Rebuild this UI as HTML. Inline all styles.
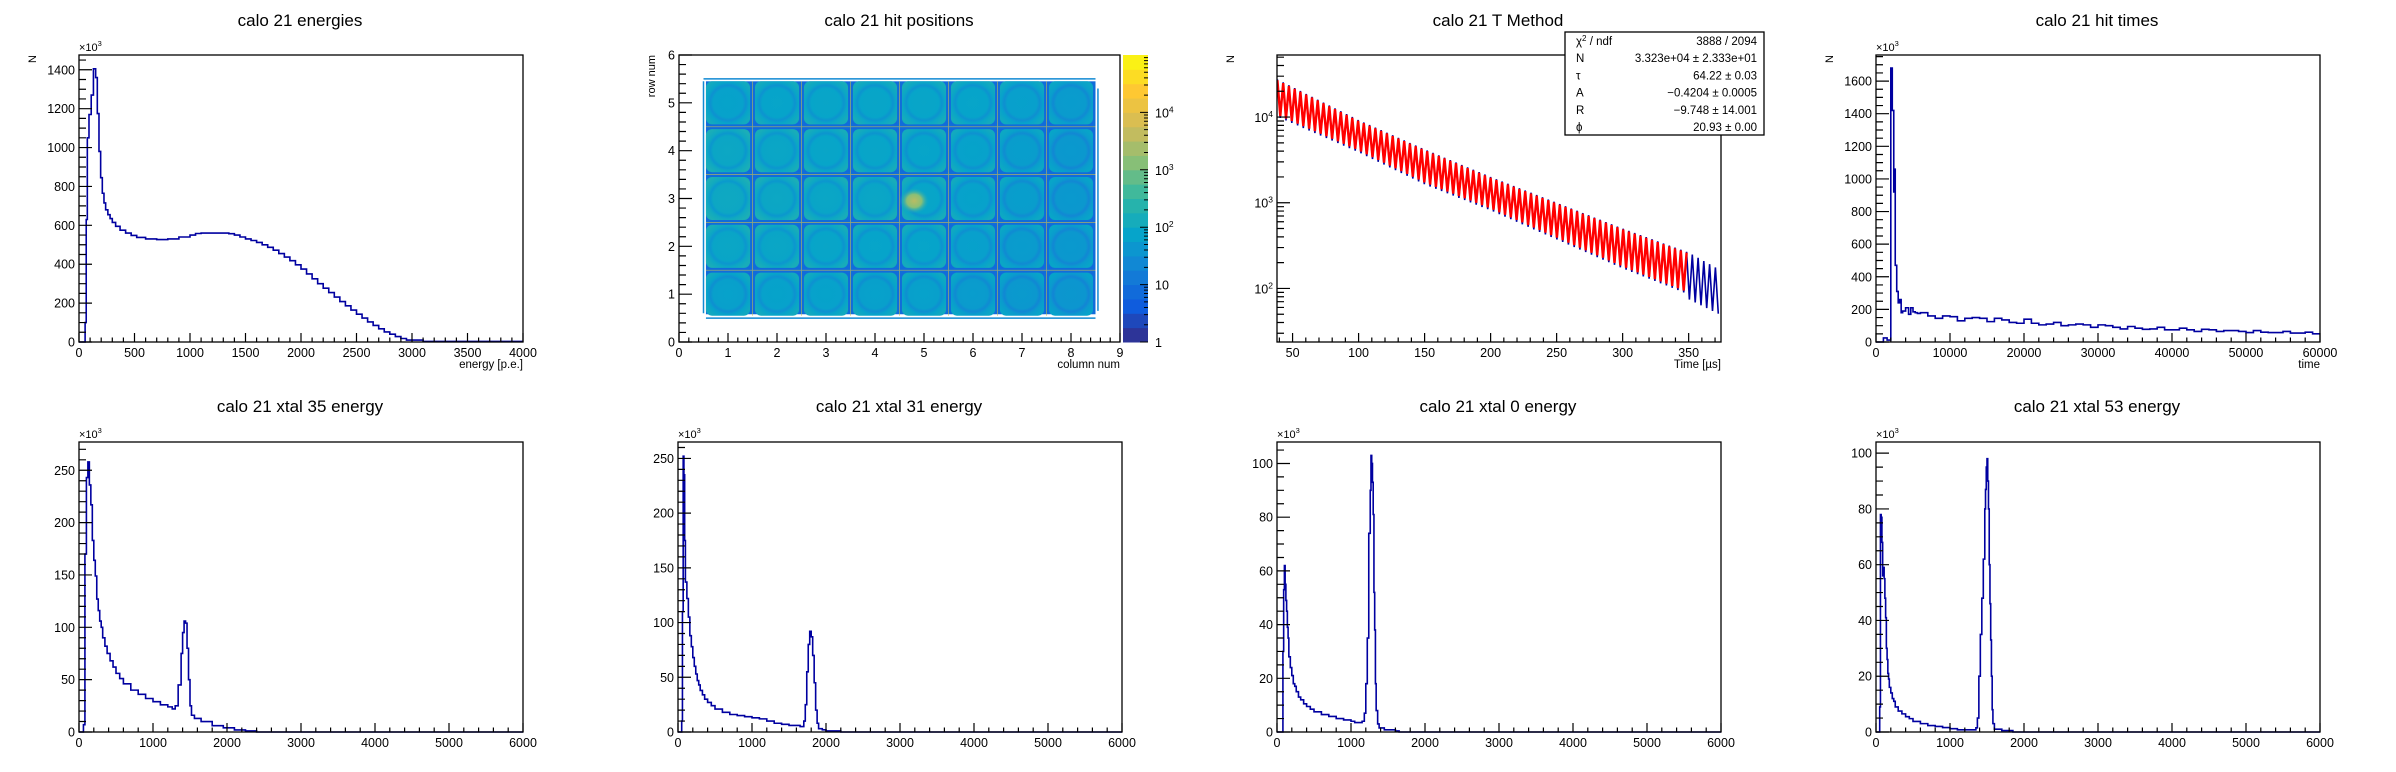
<!DOCTYPE html>
<html><head><meta charset="utf-8"><title>calo 21 plots</title>
<style>
html,body{margin:0;padding:0;background:#fff;}
svg{display:block;font-family:"Liberation Sans",Arial,sans-serif;}
</style></head>
<body>
<svg id="canvas" width="2396" height="772" viewBox="0 0 2396 772" xmlns="http://www.w3.org/2000/svg">
<defs>
<clipPath id="clipHP"><rect x="679" y="55" width="445" height="287"/></clipPath>
<clipPath id="clipTM"><rect x="1277" y="55" width="445" height="287"/></clipPath>
</defs>
</svg>
<script>
// ---------- DATA ----------
const enEdges = [0,55,65,75,90,110,130,150,165,180,195,210,225,240,260,280,300,330,370,420,470,520,600,700,800,900,1000,1050,1100,1350,1400,1450,1500,1550,1600,1650,1700,1750,1800,1850,1900,1950,2000,2050,2100,2150,2200,2250,2300,2350,2400,2450,2500,2550,2600,2650,2700,2750,2800,2850,2900,2950,3100,4000];
const enCounts = [0,100,630,1050,1170,1270,1405,1360,1175,980,845,765,715,680,655,635,615,595,575,560,548,538,530,527,530,540,550,558,560,557,550,540,530,522,512,500,487,472,455,437,418,397,375,350,325,300,277,254,231,208,186,164,143,123,103,85,68,52,40,28,18,10,3];
const htEdges = [0,1000,1500,2000,2200,2400,2500,2600,2800,3000,3200,3400,3600,4000,4400,4700,5000,5300,5600,6000,7000,8000,9000,10000,11000,12000,13000,14000,15000,16000,17000,18000,19000,20000,21000,22000,23000,24000,25000,26000,27000,28000,29000,30000,31000,32000,33000,34000,35000,36000,37000,38000,39000,40000,41000,42000,43000,44000,45000,46000,47000,48000,49000,50000,51000,52000,53000,54000,55000,56000,57000,58000,59000,60000];
const htCounts = [0,25,12,1680,1420,920,1060,470,310,240,260,180,190,210,170,210,185,180,175,180,160,145,160,155,130,145,150,145,125,145,135,120,115,140,115,105,110,120,100,105,110,105,90,105,100,90,80,95,85,78,80,90,75,75,85,75,65,78,75,65,70,70,65,58,70,60,58,58,65,55,55,60,50];
const x35Edges = [0,60,80,100,120,140,160,180,200,220,240,260,280,300,320,350,380,420,460,500,550,600,700,800,900,1000,1100,1200,1260,1300,1340,1380,1400,1420,1440,1460,1480,1500,1520,1560,1650,1800,1950,2100,2250,2400,6000];
const x35Counts = [0,7,170,243,258,236,217,183,164,149,127,116,106,100,90,82,75,68,62,56,51,46,40,36,32,29,26,24,22,25,45,75,95,106,104,80,50,25,16,13,10,6,4,2,1,0];
const x31Edges = [0,50,60,70,80,90,100,120,140,160,180,200,220,240,260,280,300,330,360,400,450,500,600,700,800,900,1000,1100,1200,1300,1400,1500,1650,1700,1720,1740,1760,1780,1800,1820,1840,1860,1880,1900,1950,2000,2200,6000];
const x31Counts = [0,10,110,252,235,175,137,122,105,88,78,68,60,53,47,43,38,34,30,27,24,21,18,16,15,14,13,12,10,8,7,6,5,10,25,55,80,92,87,70,45,20,8,3,2,1,0];
const x0Edges = [0,80,90,100,110,120,130,140,150,160,180,200,220,240,260,290,320,360,400,450,500,600,700,800,900,1000,1050,1150,1180,1200,1220,1240,1260,1270,1280,1290,1300,1310,1320,1330,1340,1360,1380,1450,1600,1650,6000];
const x0Counts = [0,30,53,62,55,49,45,39,35,28,24,21,18,17,15,13,12,10.5,9.5,8.5,7.5,6.5,5.8,5,4.5,4,3.5,4,7,18,35,74,90,103,100,93,81,52,38,18,8,3,1.5,0.8,0.4,0];
const x53Edges = [0,50,60,70,80,90,100,110,120,130,140,150,160,170,180,200,220,240,260,300,350,400,450,500,600,700,800,900,1000,1100,1350,1370,1390,1410,1430,1450,1470,1480,1490,1500,1510,1520,1530,1540,1550,1560,1570,1580,1600,1700,1850,6000];
const x53Counts = [0,9,78,77,68,56,59,55,48,41,30,26,21,19,16,14,12,11,9,7.5,6.5,5.5,4.8,3.8,3,2.3,2,1.6,1.2,0.8,1.5,5,20,35,48,62,80,87,95,98,90,80,60,46,33,20,8,3,1,0.5,0];
const tmTimes = [38.5,100,150,200,250,300,350,375];
const tmUpper = [27500,9200,4200,2000,1000,500,262,160];
const tmLower = [10440,4010,1690,840,385,177,88,57];
const tmPeriod = 4.365;
const tmFitEnd = 350;
const statsLabels = ["χ2 / ndf","N","τ","A","R","ϕ"];
const statsValues = ["3888 / 2094","3.323e+04 ± 2.333e+01","64.22 ± 0.03","−0.4204 ± 0.0005","−9.748 ± 14.001","20.93 ± 0.00"];
const hpRows = [
 [80,85,85,80,80,65,58,52],
 [105,105,98,92,92,78,64,57],
 [120,112,105,105,98,85,70,57],
 [112,105,98,98,92,85,70,57],
 [85,92,98,98,98,92,78,64]
];
const hpHotX = 4.8, hpHotY = 2.95, hpHotVal = 3500;
const hpGapVal = 8;

// ---------- HELPERS ----------
const svg = document.getElementById('canvas');
const NS = 'http://www.w3.org/2000/svg';
function el(tag, attrs, parent){
  const e = document.createElementNS(NS, tag);
  for (const k in attrs) e.setAttribute(k, attrs[k]);
  (parent||svg).appendChild(e);
  return e;
}
function txt(x,y,s,size,anchor,parent){
  const t = el('text',{x:x,y:y,'font-size':size,'text-anchor':anchor||'start',fill:'#000'},parent);
  t.textContent = s;
  return t;
}
const COLS=[0,599,1198,1797];
function frameOf(c,r){ return r===0 ? {l:COLS[c]+79,r:COLS[c]+523,t:55,b:342} : {l:COLS[c]+79,r:COLS[c]+523,t:442,b:732}; }
function linX(f,x0,x1){ return v => f.l + (v-x0)/(x1-x0)*(f.r-f.l); }
function linY(f,y0,y1){ return v => f.b - (v-y0)/(y1-y0)*(f.b-f.t); }
function logY(f,y0,y1){ const a=Math.log10(y0), b=Math.log10(y1); return v => f.b - (Math.log10(v)-a)/(b-a)*(f.b-f.t); }

function drawFrame(g,f){
  const r = el('rect',{x:f.l,y:f.t,width:f.r-f.l,height:f.b-f.t,fill:'none',stroke:'#000','stroke-width':1.3},g);
  
  
}
function xAxis(g,f,X,x0,x1,major,minor){
  const ax = el('g',{},g);
  
  
  let d='';
  for(let v=x0; v<=x1+1e-9; v+=minor){
    const isMaj = Math.abs(Math.round(v/major)*major - v) < minor*0.01;
    const px = X(v);
    d += `M${px},${f.b}V${f.b-(isMaj?9:4.5)}`;
    if(isMaj){
      const t = txt(px, f.b+15, String(Math.round(v*100)/100), 12.5, 'middle', ax);
      
      
    }
  }
  el('path',{d:d,stroke:'#000','stroke-width':1.2,fill:'none'},ax);
}
function yAxis(g,f,Y,y0,y1,major,minor){
  const ax = el('g',{},g);
  
  
  let d='';
  for(let v=y0; v<=y1+1e-9; v+=minor){
    const isMaj = Math.abs(Math.round(v/major)*major - v) < minor*0.01;
    const py = Y(v);
    d += `M${f.l},${py}H${f.l+(isMaj?13:7)}`;
    if(isMaj){
      const t = txt(f.l-4, py+4.5, String(Math.round(v*100)/100), 12.5, 'end', ax);
      
      
    }
  }
  el('path',{d:d,stroke:'#000','stroke-width':1.2,fill:'none'},ax);
}
function title(g,c,r,s){
  const t = txt(COLS[c]+300, r*386+26, s, 17, 'middle', g);
  
  
}
function expo(g,f){
  const t = el('text',{x:f.l,y:f.t-4,'font-size':11,fill:'#000'},g);
  t.innerHTML = '×10<tspan dy="-5" font-size="7.5">3</tspan>';
  
  
}
function yTitle(g,x,y,s){
  const t = el('text',{x:x,y:y,'font-size':11,'text-anchor':'end',fill:'#000',transform:`rotate(-90 ${x} ${y})`},g);
  t.textContent = s;
  
  
}
function xTitle(g,f,s){
  const t = txt(f.r, f.b+26, s, 11.5, 'end', g);
  
  
}
function hist(g,X,Y,edges,counts,name){
  const n = Math.min(edges.length-1, counts.length);
  let d = `M${X(edges[0])},${Y(counts[0])}`;
  for(let i=0;i<n;i++){
    if(i>0) d += `V${Y(counts[i])}`;
    d += `H${X(edges[i+1])}`;
  }
  const p = el('path',{d:d,stroke:'#0000a0','stroke-width':1.6,fill:'none'},g);
  
  
}
function linPanel(c,r,name,ttl,edges,counts,x0,x1,xM,xm,y0,y1,yM,ym,xt,yt){
  const g = el('g',{});
  
  
  const f = frameOf(c,r);
  const X = linX(f,x0,x1), Y = linY(f,y0,y1);
  title(g,c,r,ttl);
  hist(g,X,Y,edges,counts,name+'-histogram');
  drawFrame(g,f);
  xAxis(g,f,X,x0,x1,xM,xm);
  yAxis(g,f,Y,y0,y1,yM,ym);
  expo(g,f);
  if(xt) xTitle(g,f,xt);
  if(yt) yTitle(g,COLS[c]+36,f.t,yt);
}

// ---------- PANELS ----------
linPanel(0,0,'energies-panel','calo 21 energies',enEdges,enCounts,0,4000,500,100,0,1476,200,50,'energy [p.e.]','N');
linPanel(3,0,'hit-times-panel','calo 21 hit times',htEdges,htCounts,0,60000,10000,2000,0,1760,200,50,'time','N');
linPanel(0,1,'xtal35-panel','calo 21 xtal 35 energy',x35Edges,x35Counts,0,6000,1000,200,0,277,50,10);
linPanel(1,1,'xtal31-panel','calo 21 xtal 31 energy',x31Edges,x31Counts,0,6000,1000,200,0,265,50,10);
linPanel(2,1,'xtal0-panel','calo 21 xtal 0 energy',x0Edges,x0Counts,0,6000,1000,200,0,108,20,5);
linPanel(3,1,'xtal53-panel','calo 21 xtal 53 energy',x53Edges,x53Counts,0,6000,1000,200,0,104,20,5);

// ---------- T METHOD ----------
(function(){
  const g = el('g',{});
  
  
  const f = frameOf(2,0);
  const x0=38.2,x1=374.5,y0=23.7,y1=53000;
  const X = linX(f,x0,x1), Y = logY(f,y0,y1);
  title(g,2,0,'calo 21 T Method');
  function env(arr,t){
    for(let i=0;i<tmTimes.length-1;i++){
      if(t<=tmTimes[i+1]||i===tmTimes.length-2){
        const u=(t-tmTimes[i])/(tmTimes[i+1]-tmTimes[i]);
        return Math.pow(10, Math.log10(arr[i])*(1-u)+Math.log10(arr[i+1])*u);
      }
    }
  }
  const cg = el('g',{'clip-path':'url(#clipTM)'},g);
  let dd='', df='';
  let k=0;
  for(let t=tmTimes[0]; t<=x1; t+=tmPeriod/2, k++){
    const v = (k%2===0)? env(tmUpper,t) : env(tmLower,t)*(t>tmFitEnd?0.85:0.97);
    dd += (k===0?'M':'L')+X(t).toFixed(1)+','+Y(v).toFixed(1);
    if(t<=tmFitEnd){
      const vf = (k%2===0)? env(tmUpper,t)*0.98 : env(tmLower,t)*1.02;
      df += (k===0?'M':'L')+X(t).toFixed(1)+','+Y(vf).toFixed(1);
    }
  }
  const pd = el('path',{d:dd,stroke:'#0000a0','stroke-width':1.6,fill:'none'},cg);
  
  
  const pf = el('path',{d:df,stroke:'#ff0000','stroke-width':2.4,fill:'none'},cg);
  
  
  drawFrame(g,f);
  xAxis(g,f,X,40,370,50,10);
  const ax = el('g',{},g);
  
  
  let d='';
  for(let e=1;e<=4;e++){
    for(let m=1;m<=9;m++){
      const v=m*Math.pow(10,e);
      if(v<y0||v>y1) continue;
      d += `M${f.l},${Y(v)}H${f.l+(m===1?13:7)}`;
      if(m===1){
        const t = el('text',{x:f.l-4,y:Y(v)+5,'font-size':12.5,'text-anchor':'end',fill:'#000'},ax);
        t.innerHTML = `10<tspan dy="-5" font-size="8.5">${e}</tspan>`;
        
        
      }
    }
  }
  el('path',{d:d,stroke:'#000','stroke-width':1.2,fill:'none'},ax);
  xTitle(g,f,'Time [µs]');
  yTitle(g,COLS[2]+36,f.t,'N');
  const sb = el('g',{},g);
  
  
  el('rect',{x:1565,y:32,width:199,height:103,fill:'#fff',stroke:'#000','stroke-width':1.3},sb);
  for(let i=0;i<statsLabels.length;i++){
    const yy = 45+i*17.2;
    const lt = el('text',{x:1576,y:yy,'font-size':11.5,fill:'#000'},sb);
    if(i===0) lt.innerHTML='χ<tspan dy="-4" font-size="8">2</tspan><tspan dy="4"> / ndf</tspan>';
    else lt.textContent = statsLabels[i];
    
    
    const vt = txt(1757,yy,statsValues[i],11.5,'end',sb);
    
    
  }
})();

// ---------- HIT POSITIONS ----------
(function(){
  const stops=[[53,42,135],[15,92,221],[20,129,214],[6,164,202],[46,183,164],[135,191,119],[209,187,89],[254,200,50],[249,251,14]];
  function pal(v){
    let t=Math.log10(Math.max(v,1))/5; t=Math.min(Math.max(t,0),1);
    const s=t*(stops.length-1), i=Math.min(Math.floor(s),stops.length-2), u=s-i;
    const c=stops[i].map((a,j)=>Math.round(a*(1-u)+stops[i+1][j]*u));
    return `rgb(${c[0]},${c[1]},${c[2]})`;
  }
  const g = el('g',{});
  
  
  const f = {l:679,r:1120,t:55,b:342};
  const X = linX(f,0,9), Y = linY(f,0,6);
  title(g,1,0,'calo 21 hit positions');
  const defs = svg.querySelector('defs');
  const cg = el('g',{'clip-path':'url(#clipHP)'},g);
  const bg = el('rect',{x:X(0.55),y:Y(5.45),width:X(8.5)-X(0.55),height:Y(0.58)-Y(5.45),fill:pal(hpGapVal)},cg);
  
  
  for(let r=0;r<hpRows.length;r++){
    for(let c=0;c<hpRows[r].length;c++){
      const v=hpRows[r][c];
      const id=`cg${r}_${c}`;
      const rg = el('radialGradient',{id:id,cx:'0.5',cy:'0.5',r:'0.7'},defs);
      el('stop',{offset:'0',  'stop-color':pal(v*0.85)},rg);
      el('stop',{offset:'0.48','stop-color':pal(v*0.8)},rg);
      el('stop',{offset:'0.58','stop-color':pal(v*0.4)},rg);
      el('stop',{offset:'0.68','stop-color':pal(v*0.9)},rg);
      el('stop',{offset:'0.85','stop-color':pal(v*1.4)},rg);
      el('stop',{offset:'1','stop-color':pal(v*1.2)},rg);
      const cx0=c+0.5, cy0=r+0.5;
      const cell = el('rect',{x:X(cx0+0.05),y:Y(cy0+0.95),width:X(cx0+0.95)-X(cx0+0.05),height:Y(cy0+0.05)-Y(cy0+0.95),rx:6,fill:`url(#${id})`},cg);
      
      
    }
  }
  const hg = el('radialGradient',{id:'hot'},defs);
  el('stop',{offset:'0','stop-color':pal(hpHotVal)},hg);
  el('stop',{offset:'0.5','stop-color':pal(hpHotVal*0.4)},hg);
  el('stop',{offset:'1','stop-color':pal(hpHotVal*0.03),'stop-opacity':'0'},hg);
  const hs = el('ellipse',{cx:X(hpHotX),cy:Y(hpHotY),rx:15,ry:13,fill:'url(#hot)'},cg);
  
  
  let dl='';
  for(let k=1;k<=7;k++) dl+=`M${X(k+0.5)},${Y(5.45)}V${Y(0.55)}`;
  for(let k=1;k<=4;k++) dl+=`M${X(0.55)},${Y(k+0.5)}H${X(8.5)}`;
  const bl = el('path',{d:dl,stroke:'rgb(200,190,80)','stroke-width':0.8,'stroke-opacity':0.7,fill:'none'},cg);
  
  
  let de=`M${X(0.5)},${Y(5.5)}H${X(8.5)}M${X(0.55)},${Y(0.5)}H${X(8.5)}M${X(0.5)},${Y(5.45)}V${Y(0.6)}M${X(8.55)},${Y(5.3)}V${Y(0.65)}`;
  const eb = el('path',{d:de,stroke:pal(25),'stroke-width':1.5,fill:'none'},cg);
  
  
  drawFrame(g,f);
  xAxis(g,f,X,0,9,1,0.2);
  yAxis(g,f,Y,0,6,1,0.2);
  xTitle(g,f,'column num');
  yTitle(g,COLS[1]+56,f.t,'row num');
  const pg = el('g',{},g);
  
  
  const px0=1123,px1=1148,nb=20;
  for(let i=0;i<nb;i++){
    const v=Math.pow(10,(i+0.5)/nb*5);
    const y1=f.b-(i+1)/nb*(f.b-f.t), y0=f.b-i/nb*(f.b-f.t);
    el('rect',{x:px0,y:y1,width:px1-px0,height:y0-y1+0.5,fill:pal(v)},pg);
  }
  let pd='';
  for(let e=0;e<5;e++) for(let m=1;m<=9;m++){
    const v=m*Math.pow(10,e); const y=f.b-Math.log10(v)/5*(f.b-f.t);
    pd+=`M${px1},${y}H${px1-(m===1?8:4)}`;
    if(m===1){
      const t = el('text',{x:px1+7,y:y+5,'font-size':12.5,fill:'#000'},pg);
      t.innerHTML = e===0?'1':(e===1?'10':`10<tspan dy="-5" font-size="8.5">${e}</tspan>`);
      
      
    }
  }
  el('path',{d:pd,stroke:'#000','stroke-width':1,fill:'none'},pg);
})();
</script>
</body></html>
